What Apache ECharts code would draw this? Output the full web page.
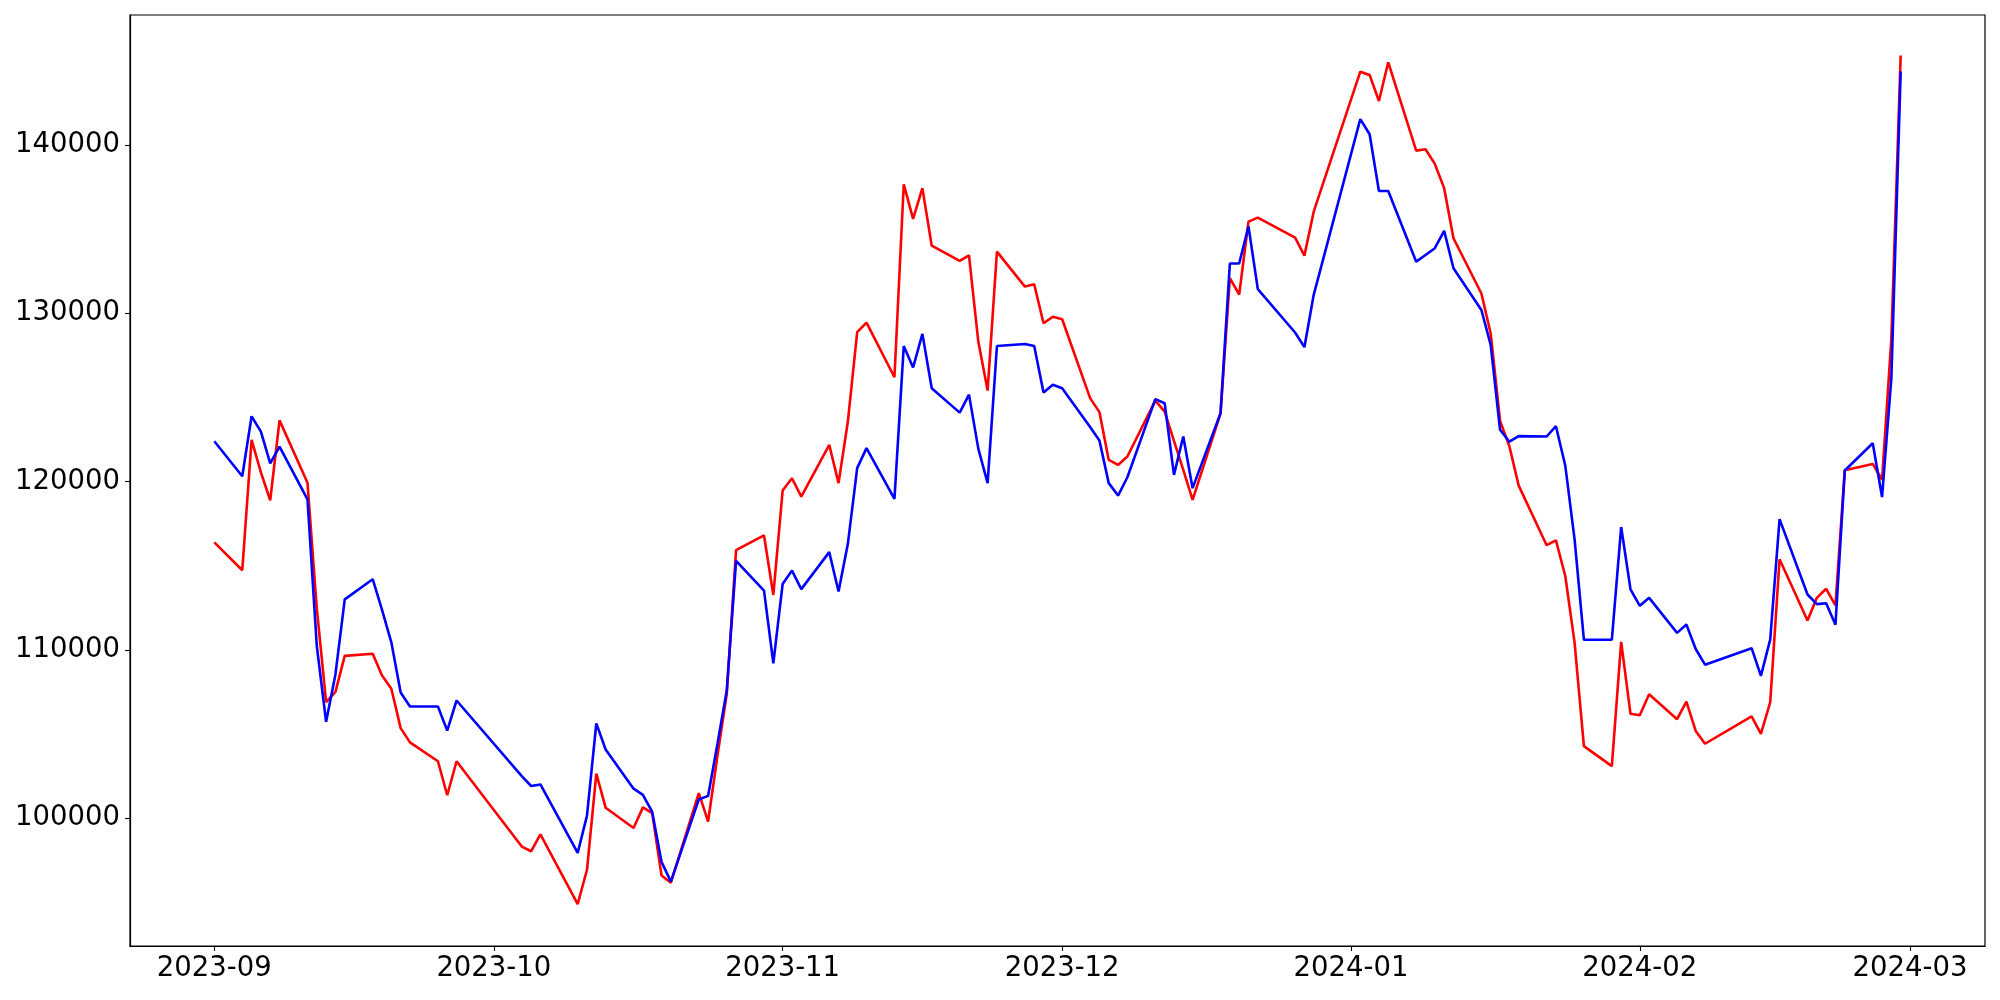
<!DOCTYPE html>
<html>
<head>
<meta charset="utf-8">
<script src="https://cdn.jsdelivr.net/npm/echarts@6/dist/echarts.min.js"></script>
<style>
  html, body { margin: 0; padding: 0; background: #fff; }
  #chart { width: 2000px; height: 1000px; }
</style>
</head>
<body>
<div id="chart"></div>
<script>
// trading days (KRX calendar), Sep 2023 - Feb 2024
const dates = [
  '2023-09-01','2023-09-04','2023-09-05','2023-09-06','2023-09-07','2023-09-08','2023-09-11','2023-09-12','2023-09-13','2023-09-14',
  '2023-09-15','2023-09-18','2023-09-19','2023-09-20','2023-09-21','2023-09-22','2023-09-25','2023-09-26','2023-09-27',
  '2023-10-04','2023-10-05','2023-10-06','2023-10-10','2023-10-11','2023-10-12','2023-10-13','2023-10-16','2023-10-17','2023-10-18',
  '2023-10-19','2023-10-20','2023-10-23','2023-10-24','2023-10-25','2023-10-26','2023-10-27','2023-10-30','2023-10-31',
  '2023-11-01','2023-11-02','2023-11-03','2023-11-06','2023-11-07','2023-11-08','2023-11-09','2023-11-10','2023-11-13','2023-11-14',
  '2023-11-15','2023-11-16','2023-11-17','2023-11-20','2023-11-21','2023-11-22','2023-11-23','2023-11-24','2023-11-27','2023-11-28',
  '2023-11-29','2023-11-30',
  '2023-12-01','2023-12-04','2023-12-05','2023-12-06','2023-12-07','2023-12-08','2023-12-11','2023-12-12','2023-12-13','2023-12-14',
  '2023-12-15','2023-12-18','2023-12-19','2023-12-20','2023-12-21','2023-12-22','2023-12-26','2023-12-27','2023-12-28',
  '2024-01-02','2024-01-03','2024-01-04','2024-01-05','2024-01-08','2024-01-09','2024-01-10','2024-01-11','2024-01-12','2024-01-15',
  '2024-01-16','2024-01-17','2024-01-18','2024-01-19','2024-01-22','2024-01-23','2024-01-24','2024-01-25','2024-01-26','2024-01-29',
  '2024-01-30','2024-01-31',
  '2024-02-01','2024-02-02','2024-02-05','2024-02-06','2024-02-07','2024-02-08','2024-02-13','2024-02-14','2024-02-15','2024-02-16',
  '2024-02-19','2024-02-20','2024-02-21','2024-02-22','2024-02-23','2024-02-26','2024-02-27','2024-02-28','2024-02-29'
];

const redValues = [
  116390, 114730, 122480, 120550, 118890, 123640, 119930, 112460, 106900, 107500,
  109640, 109770, 108470, 107690, 105350, 104500, 103380, 101360, 103380,
  98310, 98030, 99030, 94890, 96930, 102640, 100620, 99410, 100640, 100300,
  96590, 96160, 101490, 99790, 103700, 107370, 115930, 116800, 113260,
  119470, 120200, 119110, 122180, 119910, 123570, 128880, 129450, 126200, 137670,
  135610, 137440, 134020, 133120, 133450, 128320, 125410, 133670, 131590, 131730,
  129410, 129800,
  129650, 124960, 124130, 121290, 120990, 121490, 124810, 124160, 122420, 120700,
  118910, 124050, 132090, 131120, 135450, 135690, 134500, 133430, 136040,
  144360, 144170, 142620, 144920, 139670, 139750, 138880, 137440, 134460, 131180,
  128790, 123610, 122100, 119760, 116220, 116510, 114390, 110430, 104280, 103090,
  110470, 106200,
  106110, 107360, 105880, 106920, 105180, 104420, 106050, 105010, 106900, 115380,
  111740, 113090, 113630, 112650, 120680, 121050, 120110, 128500, 145320
];

const blueValues = [
  122400, 120320, 123880, 122970, 121080, 122080, 118940, 110230, 105720, 108540,
  113000, 114200, 112380, 110450, 107470, 106630, 106630, 105200, 106990,
  102490, 101910, 102000, 97930, 100150, 105630, 104080, 101750, 101380, 100370,
  97400, 96230, 101110, 101320, 104400, 107580, 115290, 113520, 109200,
  113920, 114710, 113610, 115810, 113470, 116300, 120800, 121990, 118970, 128060,
  126780, 128780, 125550, 124100, 125170, 121960, 119910, 128060, 128180, 128060,
  125290, 125750,
  125550, 123250, 122440, 119910, 119170, 120260, 124900, 124660, 120400, 122680,
  119610, 124070, 132960, 132960, 135170, 131440, 128860, 127990, 131100,
  141540, 140640, 137270, 137270, 133070, 133470, 133870, 134900, 132680, 130200,
  128110, 123080, 122370, 122700, 122680, 123290, 120950, 116570, 110600, 110600,
  117300, 113600,
  112620, 113090, 111010, 111510, 110050, 109120, 110100, 108450, 110620, 117770,
  113290, 112720, 112770, 111490, 120660, 122280, 119080, 126150, 144380
];

const monthTicks = ['2023-09-01','2023-10-01','2023-11-01','2023-12-01','2024-01-01','2024-02-01','2024-03-01'];
const yTicks = [100000, 110000, 120000, 130000, 140000];

function toTime(s) {
  const p = s.split('-');
  return Date.UTC(+p[0], +p[1] - 1, +p[2]);
}

const firstT = toTime(dates[0]);
const lastT = toTime(dates[dates.length - 1]);
const pad = (lastT - firstT) * 0.05;  // same 5% margin as the original plot

const chart = echarts.init(document.getElementById('chart'));
const font = 'DejaVu Sans';

const option = {
  animation: false,
  backgroundColor: '#fff',
  grid: {
    left: 130, right: 15, top: 15, bottom: 54,
    show: true, borderColor: '#000', borderWidth: 1.2, backgroundColor: 'transparent'
  },
  xAxis: {
    type: 'value',
    min: firstT - pad,
    max: lastT + pad,
    axisLine: { show: true, lineStyle: { color: '#000', width: 1.2 } },
    axisTick: { show: true, inside: false, length: 5, lineStyle: { color: '#000', width: 1.1 },
      customValues: monthTicks.map(toTime) },
    axisLabel: {
      customValues: monthTicks.map(toTime),
      margin: 9,
      color: '#000', fontFamily: font, fontSize: 27.5,
      formatter: function (v) {
        const d = new Date(v);
        return d.getUTCFullYear() + '-' + String(d.getUTCMonth() + 1).padStart(2, '0');
      }
    },
    splitLine: { show: false }
  },
  yAxis: {
    type: 'value',
    min: 92400,
    max: 147730,
    axisLine: { show: true, lineStyle: { color: '#000', width: 1.2 } },
    axisTick: { show: true, length: 5, lineStyle: { color: '#000', width: 1.1 }, customValues: yTicks },
    axisLabel: {
      customValues: yTicks, margin: 10, color: '#000', fontFamily: font, fontSize: 27.5,
      formatter: function (v) { return String(v); }
    },
    splitLine: { show: false }
  },
  series: [
    {
      type: 'line',
      data: dates.map((d, i) => [toTime(d), redValues[i]]),
      showSymbol: false,
      lineStyle: { color: '#ff0000', width: 2.6 },
      itemStyle: { color: '#ff0000' }
    },
    {
      type: 'line',
      data: dates.map((d, i) => [toTime(d), blueValues[i]]),
      showSymbol: false,
      lineStyle: { color: '#0000ff', width: 2.6 },
      itemStyle: { color: '#0000ff' }
    }
  ]
};

chart.setOption(option);
</script>
</body>
</html>
